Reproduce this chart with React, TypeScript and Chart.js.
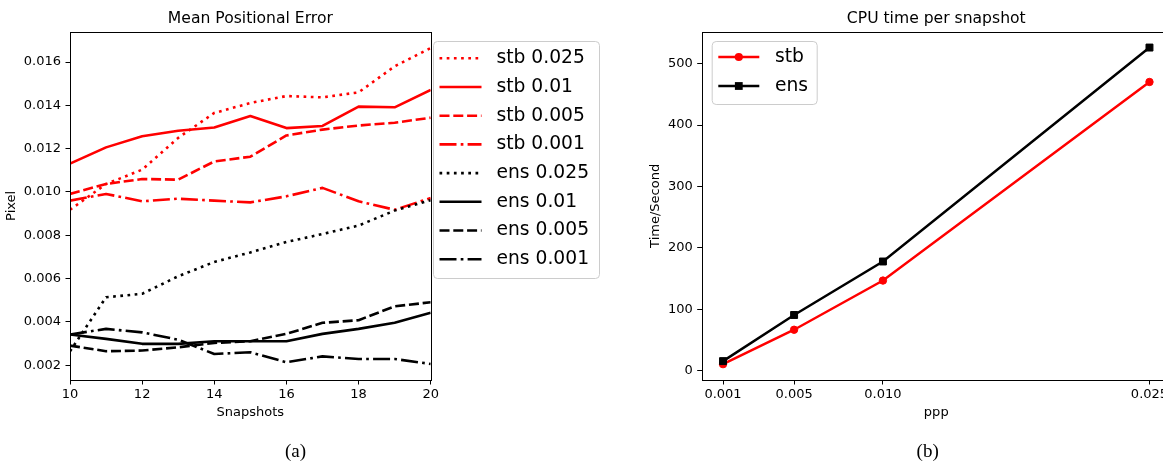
import React, { useEffect, useRef } from "react";
import { Chart, registerables } from "chart.js";

Chart.register(...registerables);

const FONT = "'DejaVu Sans', Verdana, sans-serif";

// ---------- (a) Mean Positional Error ----------
const snapshots = [10, 11, 12, 13, 14, 15, 16, 17, 18, 19, 20];
const stb0025 = [0.00918, 0.01037, 0.01103, 0.0125, 0.01365, 0.01411, 0.01443, 0.01437, 0.0146, 0.0158, 0.01665];
const stb001 = [0.01131, 0.01206, 0.01257, 0.01283, 0.01298, 0.01351, 0.01295, 0.01305, 0.01394, 0.01391, 0.01471];
const stb0005 = [0.00991, 0.01037, 0.0106, 0.01057, 0.01141, 0.01163, 0.01261, 0.01288, 0.01307, 0.0132, 0.01343];
const stb0001 = [0.0096, 0.00991, 0.00957, 0.00969, 0.0096, 0.00952, 0.0098, 0.01019, 0.00957, 0.00918, 0.00972];
const ens0025 = [0.00265, 0.00514, 0.0053, 0.00611, 0.00677, 0.00721, 0.00769, 0.00806, 0.00845, 0.00914, 0.00962];
const ens001 = [0.00342, 0.00322, 0.00299, 0.00299, 0.00311, 0.00311, 0.00311, 0.00345, 0.00368, 0.00396, 0.00442];
const ens0005 = [0.00291, 0.00265, 0.00268, 0.00283, 0.00303, 0.00311, 0.00345, 0.00396, 0.00408, 0.00472, 0.00491];
const ens0001 = [0.00342, 0.00368, 0.00352, 0.00318, 0.00252, 0.0026, 0.00214, 0.00241, 0.00229, 0.00229, 0.00206];
const errLabels = ["stb 0.025", "stb 0.01", "stb 0.005", "stb 0.001", "ens 0.025", "ens 0.01", "ens 0.005", "ens 0.001"];
const errXTicks = [10, 12, 14, 16, 18, 20];
const errYTicks = [0.002, 0.004, 0.006, 0.008, 0.01, 0.012, 0.014, 0.016];

// ---------- (b) CPU time per snapshot ----------
const ppp = [0.001, 0.005, 0.01, 0.025];
const pppTickLabels = ["0.001", "0.005", "0.010", "0.025"];
const stbTime = [11, 67, 147, 470];
const ensTime = [16, 91, 178, 526];
const timeYTicks = [0, 100, 200, 300, 400, 500];

const RED = "#ff0000";
const BLACK = "#000000";
const DOTTED = [2.7, 4.5];
const DASHED = [10, 3.8];
const DASHDOT = [17, 4.2, 2.7, 4.2];
const SOLID: number[] = [];

const framePlugin = {
  id: "frame",
  afterDraw(chart: any) {
    const { ctx, chartArea } = chart;
    const l = Math.round(chartArea.left) + 0.5;
    const t = Math.round(chartArea.top) + 0.5;
    const r = Math.round(chartArea.right) + 0.5;
    const b = Math.round(chartArea.bottom) + 0.5;
    ctx.save();
    ctx.strokeStyle = "#000";
    ctx.lineWidth = 1;
    ctx.setLineDash([]);
    ctx.strokeRect(l, t, r - l, b - t);
    ctx.restore();
  },
};

const legendPlugin = {
  id: "mplLegend",
  afterDraw(chart: any, _args: any, opts: any) {
    if (!opts || !opts.box) return;
    const ctx = chart.ctx;
    const { x, y, w, h } = opts.box;
    ctx.save();
    ctx.beginPath();
    (ctx as any).roundRect(x + 0.5, y + 0.5, w, h, 4);
    ctx.fillStyle = "rgba(255,255,255,0.8)";
    ctx.fill();
    ctx.strokeStyle = "#cccccc";
    ctx.lineWidth = 1;
    ctx.stroke();
    ctx.font = `${opts.fontSize}px ${FONT}`;
    ctx.textBaseline = "middle";
    ctx.textAlign = "left";
    chart.data.datasets.forEach((ds: any, i: number) => {
      const yy = opts.row0 + i * opts.rowStep;
      ctx.setLineDash(ds.borderDash || []);
      ctx.strokeStyle = ds.borderColor;
      ctx.lineWidth = ds.borderWidth;
      ctx.lineCap = "butt";
      ctx.beginPath();
      ctx.moveTo(opts.lineX0, yy);
      ctx.lineTo(opts.lineX1, yy);
      ctx.stroke();
      ctx.setLineDash([]);
      if (opts.markers) {
        const cx = (opts.lineX0 + opts.lineX1) / 2;
        ctx.fillStyle = ds.pointBackgroundColor;
        if (ds.pointStyle === "rect") {
          ctx.fillRect(cx - 3.9, yy - 3.9, 7.8, 7.8);
        } else {
          ctx.beginPath();
          ctx.arc(cx, yy, 4.1, 0, Math.PI * 2);
          ctx.fill();
        }
      }
      ctx.fillStyle = "#000";
      ctx.fillText(ds.label, opts.textX, yy + (opts.textDy || 0));
    });
    ctx.restore();
  },
};

const tickFont = { family: FONT, size: 13, lineHeight: 1.2 };
const titleFont = { family: FONT, size: 15.6, lineHeight: 1.2, weight: "normal" as const };

function axisCommon() {
  return {
    grid: {
      display: true,
      drawOnChartArea: false,
      drawTicks: true,
      tickLength: 4.5,
      tickWidth: 1,
      tickColor: "#000",
      color: "#000",
    },
    border: { display: false },
  };
}

function ErrorChart() {
  const ref = useRef<HTMLCanvasElement | null>(null);
  useEffect(() => {
    if (!ref.current) return;
    const series = [stb0025, stb001, stb0005, stb0001, ens0025, ens001, ens0005, ens0001];
    const colors = [RED, RED, RED, RED, BLACK, BLACK, BLACK, BLACK];
    const dashes = [DOTTED, SOLID, DASHED, DASHDOT, DOTTED, SOLID, DASHED, DASHDOT];
    const chart = new Chart(ref.current, {
      type: "line",
      data: {
        datasets: series.map((s, i) => ({
          label: errLabels[i],
          data: s.map((v, j) => ({ x: snapshots[j], y: v })),
          borderColor: colors[i],
          backgroundColor: colors[i],
          borderWidth: 2.6,
          borderDash: dashes[i],
          borderJoinStyle: "round" as const,
          pointRadius: 0,
          pointHoverRadius: 0,
          tension: 0,
          fill: false,
          order: series.length - i,
        })),
      },
      options: {
        animation: false,
        responsive: false,
        devicePixelRatio: 1,
        events: [],
        layout: { padding: { left: 0, right: 189.3, top: 0, bottom: 0 } },
        plugins: {
          legend: { display: false },
          tooltip: { enabled: false },
          title: {
            display: true,
            text: "Mean Positional Error",
            fullSize: false,
            color: "#000",
            font: titleFont,
            padding: { top: 9.2, bottom: 3.8 },
          },
          mplLegend: {
            box: { x: 433, y: 41, w: 166, h: 237 },
            row0: 58.3,
            rowStep: 28.7,
            lineX0: 439.5,
            lineX1: 481.5,
            textX: 496.5,
            fontSize: 18.7,
            textDy: 0,
          },
        } as any,
        scales: {
          x: {
            type: "linear",
            min: 10,
            max: 20,
            ...axisCommon(),
            afterBuildTicks: (s: any) => {
              s.ticks = errXTicks.map((v) => ({ value: v }));
            },
            afterFit: (s: any) => {
              s.height = 81;
            },
            ticks: {
              color: "#000",
              font: tickFont,
              padding: 2.5,
              maxRotation: 0,
              callback: (v: any) => String(v),
            },
            title: {
              display: true,
              text: "Snapshots",
              color: "#000",
              font: tickFont,
              padding: { top: 0, bottom: 41 },
            },
          },
          y: {
            type: "linear",
            min: 0.00132,
            max: 0.0174,
            ...axisCommon(),
            afterBuildTicks: (s: any) => {
              s.ticks = errYTicks.map((v) => ({ value: v }));
            },
            afterFit: (s: any) => {
              s.width = 70;
            },
            ticks: {
              color: "#000",
              font: tickFont,
              padding: 4.5,
              callback: (v: any) => Number(v).toFixed(3),
            },
            title: {
              display: true,
              text: "Pixel",
              color: "#000",
              font: tickFont,
              padding: { top: 3.6, bottom: 0 },
            },
          },
        },
      },
      plugins: [framePlugin, legendPlugin],
    } as any);
    return () => chart.destroy();
  }, []);
  return (
    <canvas
      ref={ref}
      width={620}
      height={461}
      style={{ position: "absolute", left: 0, top: 0, width: 620, height: 461 }}
    />
  );
}

function TimeChart() {
  const ref = useRef<HTMLCanvasElement | null>(null);
  useEffect(() => {
    if (!ref.current) return;
    const chart = new Chart(ref.current, {
      type: "line",
      data: {
        datasets: [
          {
            label: "stb",
            data: stbTime.map((v, j) => ({ x: ppp[j], y: v })),
            borderColor: RED,
            backgroundColor: RED,
            pointBackgroundColor: RED,
            pointBorderColor: RED,
            borderWidth: 2.5,
            pointStyle: "circle",
            pointRadius: 3.7,
            pointBorderWidth: 1,
            pointHoverRadius: 3.7,
            tension: 0,
            fill: false,
            order: 2,
          },
          {
            label: "ens",
            data: ensTime.map((v, j) => ({ x: ppp[j], y: v })),
            borderColor: BLACK,
            backgroundColor: BLACK,
            pointBackgroundColor: BLACK,
            pointBorderColor: BLACK,
            borderWidth: 2.5,
            pointStyle: "rect",
            pointRadius: 4.9,
            pointBorderWidth: 1,
            pointHoverRadius: 4.9,
            tension: 0,
            fill: false,
            order: 1,
          },
        ],
      },
      options: {
        animation: false,
        responsive: false,
        devicePixelRatio: 1,
        events: [],
        layout: { padding: { left: 0, right: 29.2, top: 0, bottom: 0 } },
        plugins: {
          legend: { display: false },
          tooltip: { enabled: false },
          title: {
            display: true,
            text: "CPU time per snapshot",
            fullSize: false,
            color: "#000",
            font: titleFont,
            padding: { top: 9.2, bottom: 3.8 },
          },
          mplLegend: {
            box: { x: 71.7, y: 41, w: 105, h: 63 },
            row0: 57,
            rowStep: 29,
            lineX0: 78.3,
            lineX1: 119.3,
            textX: 135,
            fontSize: 18.7,
            markers: true,
            textDy: 0,
          },
        } as any,
        scales: {
          x: {
            type: "linear",
            min: -0.0002,
            max: 0.0262,
            ...axisCommon(),
            afterBuildTicks: (s: any) => {
              s.ticks = ppp.map((v) => ({ value: v }));
            },
            afterFit: (s: any) => {
              s.height = 81;
            },
            ticks: {
              color: "#000",
              font: tickFont,
              padding: 2.5,
              maxRotation: 0,
              autoSkip: false,
              callback: (_v: any, i: number) => pppTickLabels[i],
            },
            title: {
              display: true,
              text: "ppp",
              color: "#000",
              font: tickFont,
              padding: { top: 0, bottom: 41 },
            },
          },
          y: {
            type: "linear",
            min: -14.75,
            max: 551.75,
            ...axisCommon(),
            afterBuildTicks: (s: any) => {
              s.ticks = timeYTicks.map((v) => ({ value: v }));
            },
            afterFit: (s: any) => {
              s.width = 61.7;
            },
            ticks: {
              color: "#000",
              font: tickFont,
              padding: 4.5,
              callback: (v: any) => String(Math.round(Number(v))),
            },
            title: {
              display: true,
              text: "Time/Second",
              color: "#000",
              font: tickFont,
              padding: { top: 7.4, bottom: 0 },
            },
          },
        },
      },
      plugins: [framePlugin, legendPlugin],
    } as any);
    return () => chart.destroy();
  }, []);
  return (
    <canvas
      ref={ref}
      width={560}
      height={461}
      style={{ position: "absolute", left: 640, top: 0, width: 560, height: 461 }}
    />
  );
}

const captionStyle: React.CSSProperties = {
  position: "absolute",
  top: 440,
  width: 60,
  textAlign: "center",
  fontFamily: "'Liberation Serif', 'Times New Roman', serif",
  fontSize: 19,
  lineHeight: "22px",
  color: "#000",
};

export default function App() {
  return (
    <div
      style={{
        position: "fixed",
        left: 0,
        top: 0,
        width: 1163,
        height: 461,
        overflow: "hidden",
        background: "#fff",
      }}
    >
      <ErrorChart />
      <TimeChart />
      <div style={{ ...captionStyle, left: 295.5 - 30 }}>(a)</div>
      <div style={{ ...captionStyle, left: 927.7 - 30 }}>(b)</div>
    </div>
  );
}
